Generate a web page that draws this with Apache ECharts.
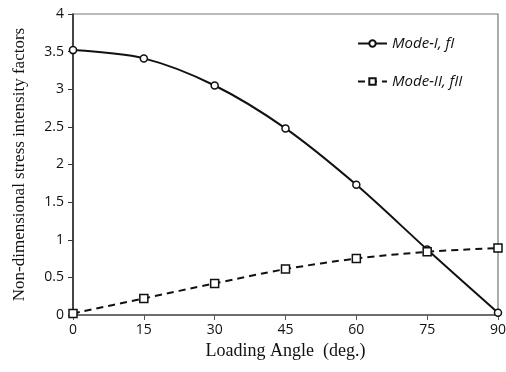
<!DOCTYPE html>
<html>
<head>
<meta charset="utf-8">
<script src="https://cdn.jsdelivr.net/npm/echarts@6/dist/echarts.min.js"></script>
<style>
  html, body { margin: 0; padding: 0; background: #fff; }
  #chart { width: 506px; height: 372px; }
</style>
</head>
<body>
<div id="chart"></div>
<script>
const angles = [0, 15, 30, 45, 60, 75, 90];
const modeI = [3.52, 3.41, 3.05, 2.48, 1.73, 0.87, 0.03];
const modeII = [0.02, 0.22, 0.42, 0.61, 0.75, 0.84, 0.89];
const names = ["Mode-I, fI", "Mode-II, fII"];

const pairs = (ys) => angles.map((a, i) => [a, ys[i]]);

const chart = echarts.init(document.getElementById("chart"));
const tickFont = { color: "#111", fontSize: 14, fontFamily: "Open Sans" };

chart.setOption({
  animation: false,
  grid: {
    left: 73, right: 8, top: 14, bottom: 57,
    outerBoundsMode: "none",
    show: true, borderColor: "#777", borderWidth: 1.2
  },
  legend: {
    orient: "vertical",
    left: 352, top: 31,
    itemGap: 23,
    itemWidth: 29, itemHeight: 8,
    data: names,
    textStyle: { fontFamily: "Open Sans", fontStyle: "italic", fontSize: 15, color: "#111" }
  },
  xAxis: {
    type: "value", min: 0, max: 90, interval: 15,
    name: "Loading Angle  (deg.)", nameLocation: "middle", nameGap: 27,
    nameTextStyle: { color: "#111", fontSize: 18, fontFamily: "Liberation Serif" },
    axisLine: { onZero: false, lineStyle: { color: "#555", width: 1.5 } },
    axisTick: { show: true, inside: false, length: 5, lineStyle: { color: "#555" } },
    axisLabel: Object.assign({ margin: 8 }, tickFont),
    splitLine: { show: false }
  },
  yAxis: {
    type: "value", min: 0, max: 4, interval: 0.5,
    name: "Non-dimensional stress intensity factors", nameLocation: "middle", nameGap: 45,
    nameTextStyle: { color: "#111", fontSize: 17, fontFamily: "Liberation Serif" },
    axisLine: { show: true, lineStyle: { color: "#222", width: 1.5 } },
    axisTick: { show: true, inside: false, length: 5, lineStyle: { color: "#333" } },
    axisLabel: Object.assign({ margin: 9 }, tickFont),
    splitLine: { show: false }
  },
  series: [
    {
      name: names[0], type: "line", data: pairs(modeI), smooth: 0.3,
      symbol: "circle", symbolSize: 7, showAllSymbol: true,
      lineStyle: { color: "#111", width: 2 },
      itemStyle: { color: "#fff", borderColor: "#111", borderWidth: 1.5 }
    },
    {
      name: names[1], type: "line", data: pairs(modeII), smooth: 0.3,
      symbol: "rect", symbolSize: 8, showAllSymbol: true,
      lineStyle: { color: "#111", width: 2, type: [7, 5] },
      itemStyle: { color: "#fff", borderColor: "#111", borderWidth: 1.5 }
    }
  ]
});
</script>
</body>
</html>
